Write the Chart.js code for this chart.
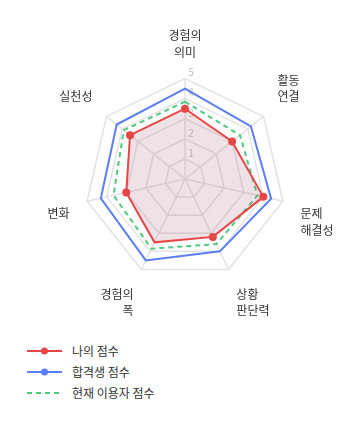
<!DOCTYPE html>
<html>
<head>
<meta charset="utf-8">
<script src="https://cdn.jsdelivr.net/npm/chart.js@4.4.1/dist/chart.umd.min.js"></script>
<style>
  body { margin: 0; background: #fff; font-family: "Noto Sans CJK KR", "Noto Sans", sans-serif; }
  #wrap { position: relative; width: 360px; height: 325px; }
  #legend { position: absolute; left: 27px; top: 340px; }
  .item { display: flex; align-items: center; height: 21px; font-size: 12px; color: #333; }
  .item svg { margin-right: 10px; }
</style>
</head>
<body>
<div id="wrap"><canvas id="radar"></canvas></div>
<div id="legend"></div>
<script>
// axes and scores
var labels = [['경험의', '의미'], ['활동', '연결'], ['문제', '해결성'], ['상황', '판단력'], ['경험의', '폭'], '변화', '실천성'];
var myScore = [3.5, 3.0, 4.0, 3.2, 3.5, 3.0, 3.5];
var passScore = [4.5, 4.2, 4.4, 4.0, 4.5, 4.3, 4.35];
var userScore = [3.85, 3.5, 3.7, 3.6, 3.85, 3.65, 3.9];
var seriesNames = ['나의 점수', '합격생 점수', '현재 이용자 점수'];
var tickValues = [1, 2, 3, 4, 5];

var colors = ['#e84646', '#5b7ef6', '#4fc97c'];

// tick numbers sit a little up and right of the spoke
var tickLabels = {
  id: 'tickLabels',
  beforeDatasetsDraw: function(chart) {
    var scale = chart.scales.r;
    var ctx = chart.ctx;
    ctx.save();
    ctx.font = '10px "Noto Sans CJK KR", sans-serif';
    ctx.fillStyle = '#bdbdbd';
    ctx.textAlign = 'center';
    ctx.textBaseline = 'middle';
    tickValues.forEach(function(v) {
      var p = scale.getPointPositionForValue(0, v);
      ctx.fillText(String(v), p.x + 6, p.y - 6);
    });
    ctx.restore();
  }
};

var ctx = document.getElementById('radar');
var radar = new Chart(ctx, {
  type: 'radar',
  data: {
    labels: labels,
    datasets: [
      {
        label: seriesNames[0],
        data: myScore,
        borderColor: colors[0],
        backgroundColor: 'rgba(170,110,130,0.2)',
        fill: true,
        borderWidth: 2,
        pointRadius: [4, 4, 4, 4, 0, 4, 4],
        pointBackgroundColor: colors[0],
        pointBorderWidth: 0
      },
      {
        label: seriesNames[1],
        data: passScore,
        borderColor: colors[1],
        fill: false,
        borderWidth: 2,
        pointRadius: 0
      },
      {
        label: seriesNames[2],
        data: userScore,
        borderColor: colors[2],
        fill: false,
        borderWidth: 2,
        borderDash: [5, 4],
        pointRadius: 0
      }
    ]
  },
  options: {
    responsive: true,
    maintainAspectRatio: false,
    animation: false,
    plugins: { legend: { display: false }, tooltip: { enabled: false } },
    layout: { padding: { top: 20, bottom: 0, left: 22, right: 0 } },
    scales: {
      r: {
        min: 0,
        max: 5,
        ticks: { stepSize: 1, display: false },
        grid: { color: '#e2e2e2', lineWidth: 1.5 },
        angleLines: { color: '#e2e2e2', lineWidth: 1.5 },
        pointLabels: {
          padding: 18,
          color: '#333',
          font: { size: 12, family: '"Noto Sans CJK KR", sans-serif', lineHeight: 1.4 }
        }
      }
    }
  },
  plugins: [tickLabels]
});

// legend below the chart
var legend = document.getElementById('legend');
seriesNames.forEach(function(name, i) {
  var dash = i === 2 ? ' stroke-dasharray="5 4"' : '';
  var dot = i === 2 ? '' : '<circle cx="17.5" cy="5" r="3.5" fill="' + colors[i] + '"/>';
  var div = document.createElement('div');
  div.className = 'item';
  div.innerHTML = '<svg width="35" height="10"><line x1="0" y1="5" x2="35" y2="5" stroke="' + colors[i] + '" stroke-width="2"' + dash + '/>' + dot + '</svg>' + name;
  legend.appendChild(div);
});
</script>
</body>
</html>
